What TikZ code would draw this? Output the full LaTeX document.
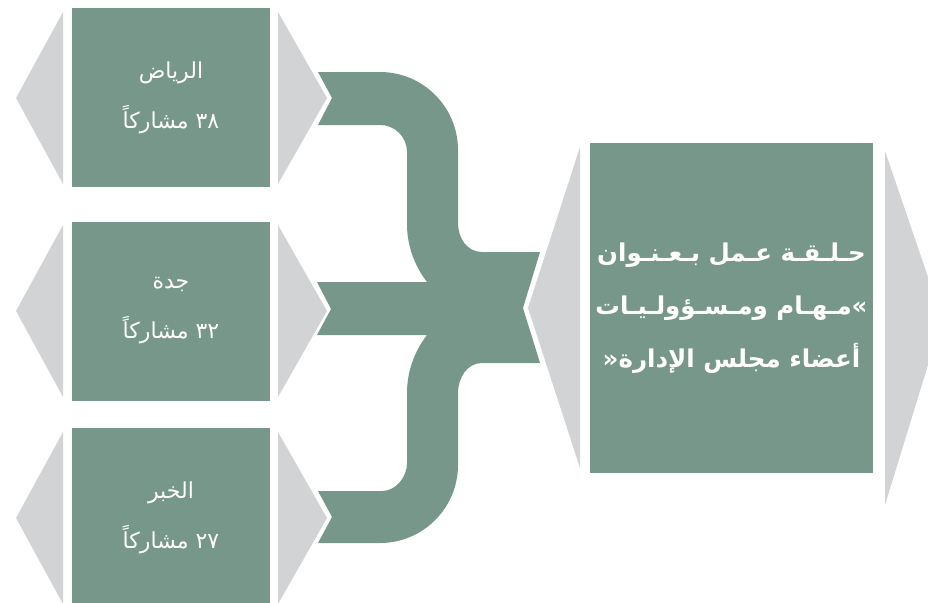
\documentclass[tikz,border=0pt]{standalone}
\usepackage{fontspec}
\newfontfamily\arabicfont[Script=Arabic]{DejaVu Sans}
\TeXXeTstate=1
\definecolor{sage}{RGB}{118,151,138}
\definecolor{greyc}{RGB}{209,211,212}
\tikzset{
  smallbox/.style={fill=sage, minimum width=198pt, minimum height=179pt, inner sep=0pt,
    align=center, text=white, font=\fontsize{22}{50}\selectfont\arabicfont},
  bigbox/.style={fill=sage, minimum width=283pt, minimum height=330pt, inner sep=0pt,
    align=center, text=white, font=\fontsize{24.5}{53}\selectfont\arabicfont\bfseries},
  greyshape/.style={fill=greyc},
  flow/.style={fill=sage}
}
\begin{document}
\begin{tikzpicture}[x=1pt,y=-1pt]
\useasboundingbox (0,0) rectangle (928,602);
\clip (0,0) rectangle (928,602);
\fill[white] (0,0) rectangle (928,602);
% grey triangles of the small boxes
\foreach \c in {98,311,518}{
  \fill[greyshape] (63,\c-86) -- (16,\c) -- (63,\c+86) -- cycle;
  \fill[greyshape] (278,\c-86) -- (327,\c) -- (278,\c+86) -- cycle;
}
% grey triangles of the big box
\fill[greyshape] (580,147) -- (528,308) -- (580,468) -- cycle;
\fill[greyshape] (885,151) -- (928,277) -- (928,365) -- (885,505) -- cycle;
% green connector
\fill[flow] (318,72) -- (380,72)
  .. controls (423,72) and (458,107) .. (458,150)
  -- (458,223) .. controls (458,238) and (467,252) .. (482,252)
  -- (540,252) -- (523,308) -- (540,363) -- (482,363)
  .. controls (467,363) and (458,378) .. (458,393)
  -- (458,465) .. controls (458,508) and (423,543) .. (380,543)
  -- (318,543) -- (332,517) -- (318,491) -- (382,491)
  .. controls (396,491) and (407,477) .. (407,463)
  -- (407,393) .. controls (407,372) and (414,352) .. (427,335)
  -- (317,335) -- (331,309) -- (317,282) -- (427,282)
  .. controls (414,265) and (407,245) .. (407,224)
  -- (407,152) .. controls (407,137) and (395,125) .. (380,125)
  -- (318,125) -- (332,98) -- cycle;
% boxes
\node[smallbox] (riyadh) at (171,97.5) {\beginR الرياض\endR\\\beginR ٣٨ مشاركاً\endR};
\node[smallbox] (jeddah) at (171,311) {\beginR جدة\endR\\\beginR ٣٢ مشاركاً\endR};
\node[smallbox] (khobar) at (171,517.5) {\beginR الخبر\endR\\\beginR ٢٧ مشاركاً\endR};
\node[bigbox] (workshop) at (731.5,308) {\beginR حـلـقـة عـمل بـعـنـوان\endR\\
  \beginR\mbox{»}مـهـام ومـسـؤولـيـات\endR\\
  \beginR أعضاء مجلس الإدارة\mbox{«}\endR};
\end{tikzpicture}
\end{document}
